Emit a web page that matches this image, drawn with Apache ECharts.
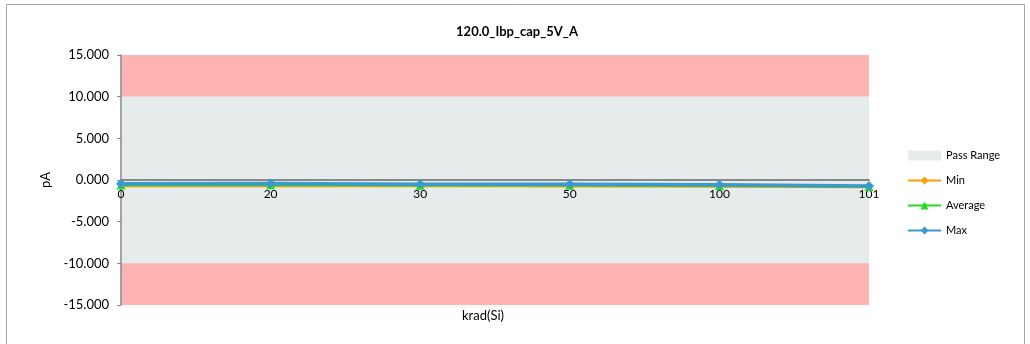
<!DOCTYPE html>
<html><head><meta charset="utf-8">
<script src="https://cdn.jsdelivr.net/npm/echarts@6/dist/echarts.min.js"></script>
<style>html,body{margin:0;padding:0;background:#fff}#c{width:1030px;height:344px}</style>
</head><body><div id="c"></div>
<script>
const categories = ['0', '20', '30', '50', '100', '101'];
const minValues = [-0.72, -0.68, -0.72, -0.74, -0.78, -0.85];
const avgValues = [-0.60, -0.56, -0.62, -0.64, -0.68, -0.78];
const maxValues = [-0.45, -0.42, -0.50, -0.52, -0.58, -0.72];
const passLow = -10, passHigh = 10, axisMin = -15, axisMax = 15;

const font = 'Lato, "Open Sans", sans-serif';
const gridTop = 55, gridBottom = 39, chartH = 344;
const plotH = chartH - gridTop - gridBottom;
const zeroOffset = -plotH * (0 - axisMin) / (axisMax - axisMin);
const chart = echarts.init(document.getElementById('c'));
chart.setOption({
  animation: false,
  title: {text: '120.0_Ibp_cap_5V_A', left: 512, top: 20, textAlign: 'center',
    textStyle: {fontFamily: font, fontWeight: 'bold', fontSize: 13, color: '#000'}},
  grid: {left: 121, right: 161, top: gridTop, bottom: gridBottom},
  legend: {orient: 'vertical', left: 902, top: 145, itemGap: 14, itemWidth: 33, itemHeight: 10,
    textStyle: {fontFamily: font, fontSize: 11, color: '#000'},
    data: [{name: 'Pass Range', icon: 'rect'}, {name: 'Min'}, {name: 'Average'}, {name: 'Max'}]},
  xAxis: {type: 'category', data: categories, boundaryGap: false, offset: zeroOffset, z: 2,
    axisLine: {onZero: false, lineStyle: {color: '#888', width: 2}},
    axisTick: {show: false},
    axisLabel: {fontFamily: font, fontSize: 12, color: '#000', margin: 8}},
  yAxis: {type: 'value', min: axisMin, max: axisMax, interval: 5, z: 2,
    splitLine: {show: false},
    axisLine: {show: true, lineStyle: {color: '#888', width: 1.5}},
    axisTick: {show: true, length: 4, lineStyle: {color: '#888'}},
    axisLabel: {fontFamily: font, fontSize: 13, color: '#000', margin: 12,
      formatter: v => v.toFixed(3)},
    name: 'pA', nameLocation: 'middle', nameGap: 66, nameRotate: 90,
    nameTextStyle: {fontFamily: font, fontSize: 13, color: '#000'}},
  graphic: [
    {type: 'rect', shape: {x: 6.5, y: 4.5, width: 1018, height: 360}, style: {fill: 'none', stroke: '#a6a6a6', lineWidth: 1}, z: -10},
    {type: 'text', left: 462, top: 309, style: {text: 'krad(Si)', font: '13px ' + font, fill: '#000'}}
  ],
  series: [
    {name: 'Pass Range', type: 'line', data: [], itemStyle: {color: '#E6ECEC'}, lineStyle: {color: '#E6ECEC'}, z: 0,
      markArea: {silent: true, z: 0, data: [
        [{yAxis: passHigh, xAxis: 0, itemStyle: {color: '#FFB3B3'}}, {yAxis: axisMax, xAxis: categories.length - 1}],
        [{yAxis: passLow, xAxis: 0, itemStyle: {color: '#E6ECEC'}}, {yAxis: passHigh, xAxis: categories.length - 1}],
        [{yAxis: axisMin, xAxis: 0, itemStyle: {color: '#FFB3B3'}}, {yAxis: passLow, xAxis: categories.length - 1}]
      ]}},
    {name: 'Min', type: 'line', data: minValues, symbol: 'diamond', symbolSize: 7,
      itemStyle: {color: '#FF9A0A'}, lineStyle: {width: 2.5, color: '#FF9A0A'}, z: 3},
    {name: 'Average', type: 'line', data: avgValues, symbol: 'triangle', symbolSize: 9,
      itemStyle: {color: '#22DD22'}, lineStyle: {width: 2.5, color: '#22DD22'}, z: 4},
    {name: 'Max', type: 'line', data: maxValues, symbol: 'diamond', symbolSize: 10,
      itemStyle: {color: '#3A9AD0'}, lineStyle: {width: 3.5, color: '#3A9AD0'}, z: 5}
  ]
});
</script></body></html>
